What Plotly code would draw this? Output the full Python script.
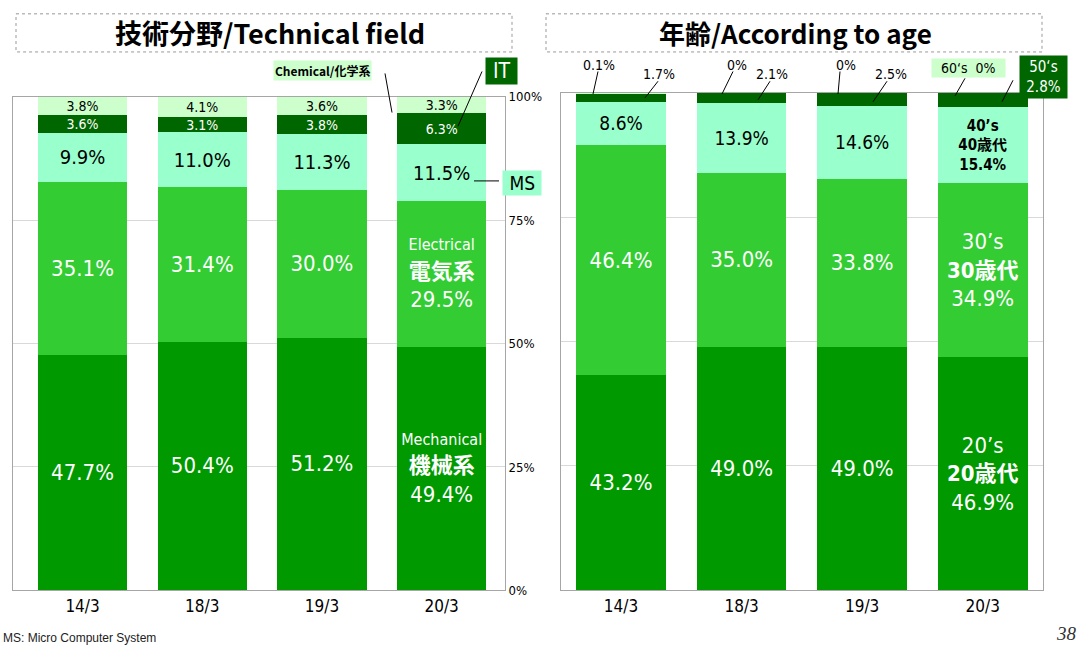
import plotly.graph_objects as go

W, H = 1079, 654

# ---- data -------------------------------------------------------------
periods = ["14/3", "18/3", "19/3", "20/3"]

# technical field (%)
mechanical = [47.7, 50.4, 51.2, 49.4]
electrical = [35.1, 31.4, 30.0, 29.5]
ms_share   = [9.9, 11.0, 11.3, 11.5]
it_share   = [3.6, 3.1, 3.8, 6.3]
chemical   = [3.8, 4.1, 3.6, 3.3]

# age (%)
age_20s = [43.2, 49.0, 49.0, 46.9]
age_30s = [46.4, 35.0, 33.8, 34.9]
age_40s = [8.6, 13.9, 14.6, 15.4]
age_50s = [1.7, 2.1, 2.5, 2.8]
age_60s = [0.1, 0.0, 0.0, 0.0]

y_ticks = [0, 25, 50, 75, 100]
y_tick_labels = ["0%", "25%", "50%", "75%", "100%"]

# ---- styling ----------------------------------------------------------
C_MECH = "#009900"
C_ELEC = "#33CC33"
C_MS   = "#99FFCC"
C_IT   = "#006600"
C_CHEM = "#CCFFCC"

NUM_FONT = "DejaVu Sans Condensed, Liberation Sans Narrow, Noto Sans CJK JP, sans-serif"
JP_FONT  = "Noto Sans CJK JP, sans-serif"


# screen pixel -> paper coords
def px(x):
    return x / W


def py(y):
    return 1 - y / H


def pct(v):
    return f"{v:.1f}%" if v else "0%"


def bar(x, y, color, text, fcolor, fsize, xaxis, yaxis, name):
    return go.Bar(
        x=x, y=y, name=name, marker=dict(color=color, line=dict(width=0)),
        text=text, textposition="inside", insidetextanchor="middle",
        constraintext="none", textangle=0,
        textfont=dict(color=fcolor, size=fsize, family=NUM_FONT),
        xaxis=xaxis, yaxis=yaxis, showlegend=False, hoverinfo="skip",
    )


def small(s, size):
    return f"<span style='font-size:{size}px'>{s}</span>"


fig = go.Figure()

# ---- left: technical field -------------------------------------------
mech_txt = [pct(v) for v in mechanical]
mech_txt[-1] = small("Mechanical", 16) + "<br><b>機械系</b><br>" + pct(mechanical[-1])
elec_txt = [pct(v) for v in electrical]
elec_txt[-1] = small("Electrical", 16) + "<br><b>電気系</b><br>" + pct(electrical[-1])

fig.add_trace(bar(periods, mechanical, C_MECH, mech_txt, "white", 22, "x", "y", "Mechanical"))
fig.add_trace(bar(periods, electrical, C_ELEC, elec_txt, "white", 22, "x", "y", "Electrical"))
fig.add_trace(bar(periods, ms_share, C_MS, [pct(v) for v in ms_share], "black", 20, "x", "y", "MS"))
fig.add_trace(bar(periods, it_share, C_IT, [pct(v) for v in it_share], "white", 14, "x", "y", "IT"))
fig.add_trace(bar(periods, chemical, C_CHEM, [pct(v) for v in chemical], "black", 14, "x", "y", "Chemical"))

# ---- right: age ------------------------------------------------------
a20_txt = [pct(v) for v in age_20s]
a20_txt[-1] = "20’s<br><b>20歳代</b><br>" + pct(age_20s[-1])
a30_txt = [pct(v) for v in age_30s]
a30_txt[-1] = "30’s<br><b>30歳代</b><br>" + pct(age_30s[-1])
a40_txt = [pct(v) for v in age_40s]
a40_txt[-1] = "<b>40’s<br>40歳代<br>" + pct(age_40s[-1]) + "</b>"

fig.add_trace(bar(periods, age_20s, C_MECH, a20_txt, "white", 22, "x2", "y2", "20s"))
fig.add_trace(bar(periods, age_30s, C_ELEC, a30_txt, "white", 22, "x2", "y2", "30s"))
fig.add_trace(bar(periods, age_40s, C_MS, a40_txt, "black", [19, 19, 19, 15], "x2", "y2", "40s"))
fig.add_trace(bar(periods, age_50s, C_IT, ["", "", "", ""], "white", 12, "x2", "y2", "50s"))
fig.add_trace(bar(periods, age_60s, C_CHEM, ["", "", "", ""], "black", 12, "x2", "y2", "60s"))

# ---- annotations ------------------------------------------------------
ann = []


def label(x, y, text, size=13, color="black", bg=None, family=NUM_FONT, pad=2, **kw):
    d = dict(x=px(x), y=py(y), xref="paper", yref="paper", text=text,
             xanchor="center", yanchor="middle",
             showarrow=False, font=dict(size=size, color=color, family=family))
    if bg:
        d.update(bgcolor=bg, borderpad=pad)
    d.update(kw)
    ann.append(d)


# titles
label(270, 26, "<b>技術分野/Technical field</b>", size=27, family=JP_FONT)
label(795, 26, "<b>年齢/According to age</b>", size=26, family=JP_FONT)

# left callouts
label(323, 65, "<b>Chemical/化学系</b>", size=12, bg=C_CHEM, family=JP_FONT, pad=1)
label(501, 66, " IT ", size=21, color="white", bg=C_IT, pad=1)
label(522, 180, " MS ", size=19, bg=C_MS, pad=1)

# right callouts
label(599, 59, "0.1%", size=14)
label(659, 69, "1.7%", size=14)
label(737, 59, "0%", size=14)
label(772, 69, "2.1%", size=14)
label(846, 59, "0%", size=14)
label(891, 69, "2.5%", size=14)
label(968, 62, "  60‘s  0%  ", size=14, bg=C_CHEM, pad=1)
label(1043, 72, " 50‘s <br> 2.8% ", size=15, color="white", bg=C_IT, pad=2)

# footer
label(1, 646, "MS: Micro Computer System", size=12, color="#222",
      family="Liberation Sans, Arial, sans-serif", xanchor="left")
label(1066, 641, "<i>38</i>", size=19, color="#333",
      family="Liberation Serif, serif")

# ---- shapes (title boxes, leader lines) ------------------------------
shapes = []
for x0, x1 in [(16, 512), (546, 1042)]:
    shapes.append(dict(type="rect", xref="paper", yref="paper",
                       x0=px(x0), x1=px(x1), y0=py(7), y1=py(46),
                       line=dict(color="#999999", width=1, dash="dot")))

leaders = [
    (385, 68, 392, 108), (482, 66, 458, 122), (474, 178, 499, 178),
    (598, 66, 593, 89), (658, 76, 645, 93),
    (733, 66, 722, 89), (770, 76, 758, 95),
    (840, 66, 838, 89), (887, 76, 873, 97),
    (965, 73, 955, 91), (1013, 75, 1002, 97),
]
for x0, y0, x1, y1 in leaders:
    shapes.append(dict(type="line", xref="paper", yref="paper",
                       x0=px(x0), y0=py(y0), x1=px(x1), y1=py(y1),
                       line=dict(color="black", width=1)))

axis_common = dict(showline=True, mirror=True, linecolor="#A6A6A6", linewidth=1)

fig.update_layout(
    width=W, height=H,
    margin=dict(l=0, r=0, t=0, b=0),
    paper_bgcolor="white", plot_bgcolor="white",
    barmode="stack", bargap=0.256,
    annotations=ann, shapes=shapes,
    xaxis=dict(domain=[px(13), px(505)], range=[-0.581, 3.529],
               tickfont=dict(size=17, color="black", family=NUM_FONT),
               showgrid=False, **axis_common),
    yaxis=dict(domain=[py(597), py(92)], range=[0, 100], side="right",
               tickvals=y_ticks, ticktext=y_tick_labels, ticks="",
               tickfont=dict(size=13, color="black", family=NUM_FONT),
               showgrid=True, gridcolor="#D9D9D9", zeroline=False,
               **axis_common),
    xaxis2=dict(domain=[px(561), px(1043)], range=[-0.498, 3.50], anchor="y2",
                tickfont=dict(size=17, color="black", family=NUM_FONT),
                showgrid=False, **axis_common),
    yaxis2=dict(domain=[py(597), py(88)], range=[0, 100], anchor="x2",
                tickvals=y_ticks, showticklabels=False,
                showgrid=True, gridcolor="#D9D9D9", zeroline=False,
                **axis_common),
)

# pin the figure to the window's top-left corner, no page margins
pin = """
var r=document.documentElement.style; r.margin='0'; r.padding='0'; r.height='654px'; r.overflow='hidden';
var b=document.body.style; b.margin='0'; b.padding='0'; b.height='654px'; b.overflow='hidden';
var g=document.getElementsByClassName('plotly-graph-div')[0].style;
g.position='fixed'; g.left='0px'; g.top='0px';
"""
fig.write_html("out.html", config={"displayModeBar": False}, post_script=pin)
